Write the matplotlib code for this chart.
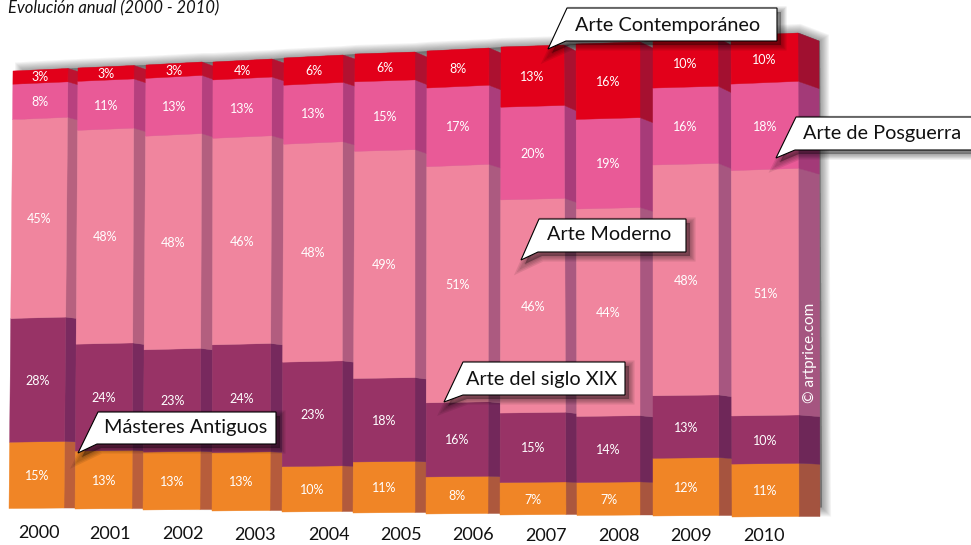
import numpy as np
import matplotlib
matplotlib.use("Agg")
import matplotlib.pyplot as plt
from matplotlib.colors import to_rgb

years = ["2000", "2001", "2002", "2003", "2004", "2005", "2006", "2007", "2008", "2009", "2010"]

# percentages, bottom to top
masters = [15, 13, 13, 13, 10, 11, 8, 7, 7, 12, 11]
siglo_xix = [28, 24, 23, 24, 23, 18, 16, 15, 14, 13, 10]
moderno = [45, 48, 48, 46, 48, 49, 51, 46, 44, 48, 51]
posguerra = [8, 11, 13, 13, 13, 15, 17, 20, 19, 16, 18]
contemporaneo = [3, 3, 3, 4, 6, 6, 8, 13, 16, 10, 10]

# perspective of the drawing, in pixels
left_top = np.array([13, 78, 146, 213, 284, 355, 427, 501, 576, 653, 731])
right_top = np.array([68, 134, 202, 272, 343, 415, 489, 564, 640, 718, 798])
side_top = np.array([78, 146, 213, 284, 355, 427, 501, 576, 653, 731, 819])
left_bot = np.array([9, 75, 143, 212, 282, 353, 426, 500, 577, 653, 732])
right_bot = np.array([64, 132, 200, 270, 342, 415, 488, 566, 640, 719, 799])
side_bot = np.array([75, 143, 212, 282, 353, 426, 500, 577, 653, 732, 820])
top_l = np.array([71, 68, 65, 62, 58, 54, 51, 47, 44, 40, 36])
top_r = np.array([68.5, 65.5, 62, 59, 55, 52, 48, 45, 42, 38, 33])
bot_l = np.array([508.5, 509, 510, 511, 512, 513, 514, 515, 515.5, 516, 517])
bot_r = bot_l - 0.5
side_drop = np.array([3, 4, 4, 4, 4, 5, 5, 6, 6, 7, 8])
year_x = [39, 110, 183, 255, 329, 401, 473, 546, 619, 691, 764]
year_y = [533, 534, 534, 535, 535, 535, 535, 536, 536, 536, 536]

colors = ["#F08526", "#983366", "#F0859E", "#E95A97", "#E2001A"]
side_first = ["#BC5F3A", "#7A2A5F", "#B7617F", "#B8417F", "#BE1230"]
side_last = ["#A3533F", "#6E2758", "#A55580", "#A33A78", "#A01030"]

series = np.array([masters, siglo_xix, moderno, posguerra, contemporaneo], dtype=float)
cum = np.vstack([np.zeros(len(years)), np.cumsum(series, axis=0)]) / series.sum(axis=0)

plt.rcParams["font.family"] = ["Lato", "DejaVu Sans"]
fig = plt.figure(figsize=(9.71, 5.45), dpi=100)
ax = fig.add_axes([0, 0, 1, 1])
ax.set_xlim(0, 971)
ax.set_ylim(545, 0)
ax.axis("off")


def mix(c1, c2, t):
    return tuple((1 - t) * np.array(to_rgb(c1)) + t * np.array(to_rgb(c2)))


def lerp(a, b, t):
    return a + (b - a) * t


# soft shadow behind the block, pulled in on the left and at the bottom
out_x = []
out_y = []
for i in range(len(years)):
    out_x += [left_top[i] + 10 * (i == 0), right_top[i]]
    out_y += [top_l[i] + 6, top_r[i] + 6]
out_x += [side_top[-1], side_bot[-1] + 1, left_bot[0] + 12]
out_y += [top_r[-1] + side_drop[-1] + 6, bot_r[-1] - 3, bot_l[0] - 3]
for lw in np.arange(13, 0, -1.3):
    ax.fill(np.array(out_x) + 1, np.array(out_y) - 6, color="#303030", alpha=0.05, lw=lw, zorder=1)

for i in range(len(years)):
    for s in range(5):
        f0, f1 = cum[s, i], cum[s + 1, i]
        # front face
        xs = [lerp(left_bot[i], left_top[i], f0), lerp(right_bot[i], right_top[i], f0),
              lerp(right_bot[i], right_top[i], f1), lerp(left_bot[i], left_top[i], f1)]
        ys = [lerp(bot_l[i], top_l[i], f0), lerp(bot_r[i], top_r[i], f0),
              lerp(bot_r[i], top_r[i], f1), lerp(bot_l[i], top_l[i], f1)]
        ax.fill(xs, ys, color=colors[s], lw=0.3, zorder=3)
        # side face
        sx = [xs[1], lerp(side_bot[i], side_top[i], f0), lerp(side_bot[i], side_top[i], f1), xs[2]]
        sy = [ys[1], ys[1] + side_drop[i] * f0, ys[2] + side_drop[i] * f1, ys[2]]
        ax.fill(sx, sy, color=mix(side_first[s], side_last[s], i / 10), lw=0.3, zorder=2)
        ax.text(sum(xs) / 4, sum(ys) / 4 + 1, "%d%%" % series[s, i], color="white", fontsize=9,
                ha="center", va="center", zorder=4)
    ax.text(year_x[i], year_y[i], years[i], fontsize=13, color="#111111", ha="center", va="center")

ax.text(8, 8, "Evolución anual (2000 - 2010)", fontsize=11.9, style="italic",
        color="#111111", ha="left", va="center", zorder=6)
ax.text(810, 353, "© artprice.com", rotation=90, color="white", fontsize=11,
        ha="center", va="center", zorder=4)

callouts = [
    ("Arte Contemporáneo", 668, 25, [548, 567, 777, 777, 566], [49, 8, 8, 41, 41]),
    ("Arte de Posguerra", 882, 133, [776, 796, 975, 975, 795], [158, 117, 117, 150, 150]),
    ("Arte Moderno", 609, 235, [521, 539, 686, 686, 538], [260, 219, 219, 252, 252]),
    ("Arte del siglo XIX", 542, 380, [444, 463, 625, 625, 463], [402, 362, 362, 395, 395]),
    ("Másteres Antiguos", 186, 428, [78, 98, 276, 276, 97], [453, 412, 412, 444, 444]),
]
for label, tx, ty, px, py in callouts:
    for lw in [8, 6, 4, 2]:
        ax.fill(np.array(px) + 4, np.array(py) + 4, color="black", alpha=0.09, lw=lw, zorder=5)
    ax.fill(px, py, facecolor="white", edgecolor="black", lw=0.8, zorder=6)
    ax.text(tx, ty, label, fontsize=14.3, color="#111111", ha="center", va="center", zorder=7)

fig.savefig("out.png", dpi=100)
